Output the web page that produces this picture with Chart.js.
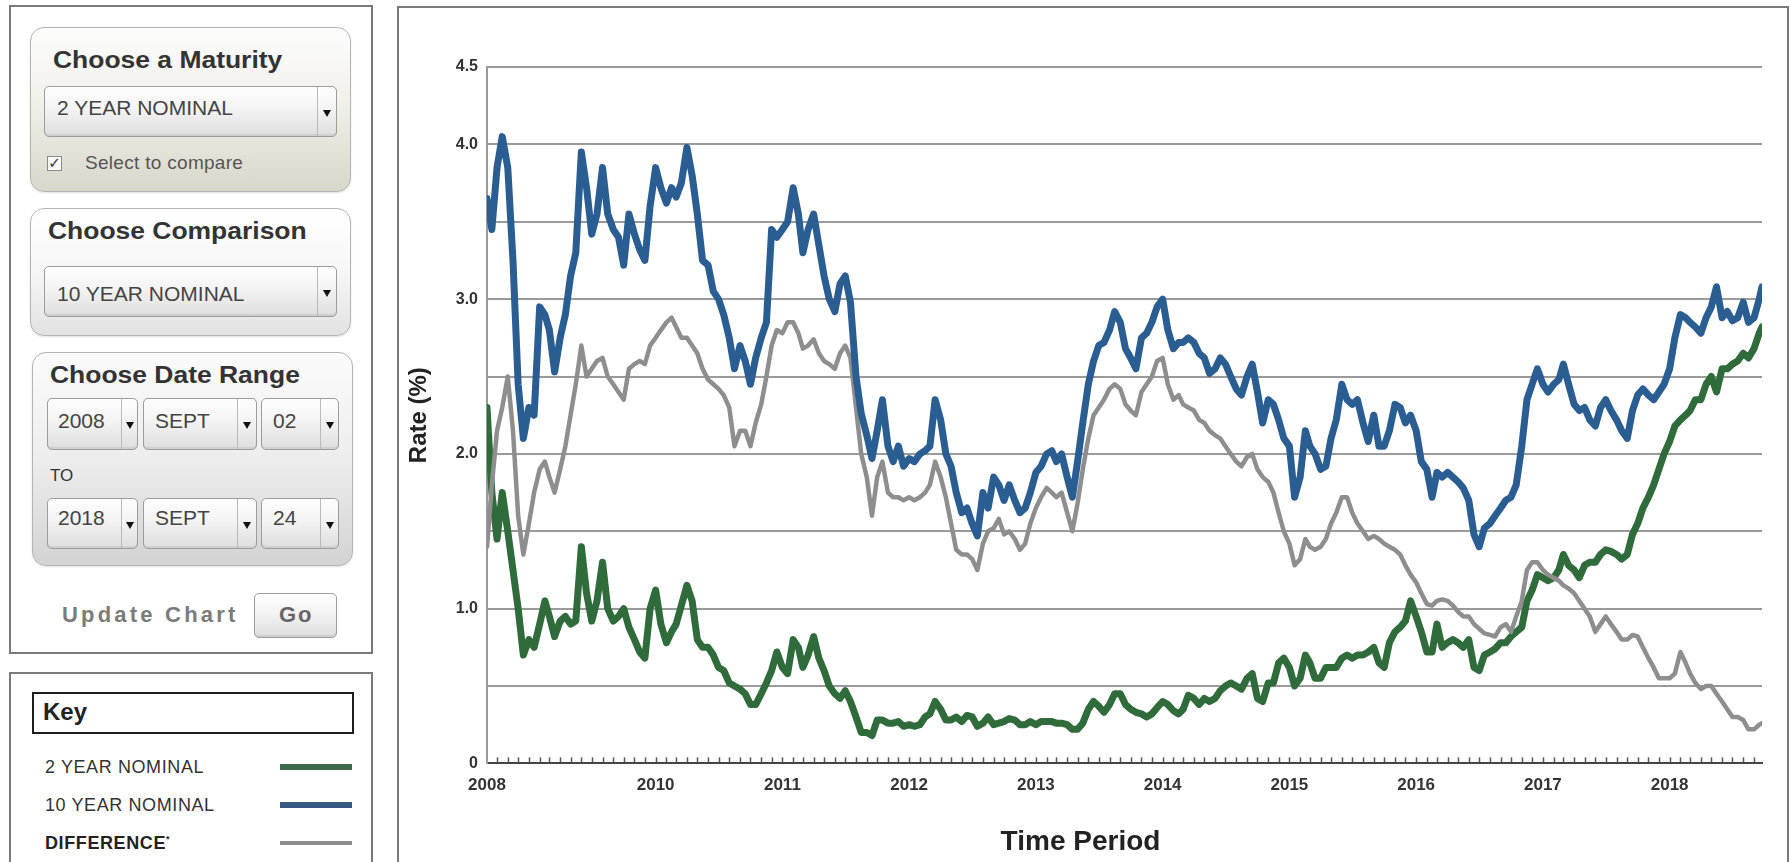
<!DOCTYPE html>
<html>
<head>
<meta charset="utf-8">
<title>Yield comparison</title>
<script src="https://cdn.jsdelivr.net/npm/chart.js@4.4.1/dist/chart.umd.min.js"></script>
<style>
  html, body { margin: 0; padding: 0; background: #fff; }
  body { width: 1791px; height: 862px; overflow: hidden; position: relative;
         font-family: "Liberation Sans", Arial, sans-serif; color: #333; }
  .abs { position: absolute; box-sizing: border-box; }
  .frame { border: 2px solid #7a7a7a; background: #fff; }
  .group { border: 1px solid #b4b4b4; border-radius: 14px; box-shadow: 0 1px 2px rgba(0,0,0,0.12); }
  .title { font-weight: bold; font-size: 23px; line-height: 1; color: #333; white-space: nowrap;
           transform: scaleX(1.15); transform-origin: 0 0; }
  .sel { border: 1px solid #9c9c9c; border-radius: 5px;
         background: linear-gradient(#fefefe, #f3f3f3 45%, #dedede);
         box-shadow: inset 0 -2px 0 #cfcfcf; }
  .sel .btn { position: absolute; top: 0; right: 0; bottom: 0; border-left: 1px solid #b9b9b9; }
  .sel .btn::after { content: ''; position: absolute; left: 50%; top: 50%;
         transform: translate(-50%, -30%);
         border-left: 4px solid transparent; border-right: 4px solid transparent; border-top: 7px solid #111; }
  .txt { font-size: 21px; line-height: 1; color: #444; white-space: nowrap; }
  .key { font-size: 18px; line-height: 1; color: #333; letter-spacing: 0.6px; white-space: nowrap; }
  .swatch { height: 6px; }
</style>
</head>
<body>

<!-- controls -->
<div class="abs frame" style="left:9px;top:5px;width:364px;height:649px"></div>

<div class="abs group" style="left:30px;top:27px;width:321px;height:165px;background:linear-gradient(#fdfdfc 0%, #f1f0ea 45%, #d9d7cb 100%)"></div>
<div class="abs title" style="left:53px;top:49px">Choose a Maturity</div>
<div class="abs sel" style="left:44px;top:86px;width:293px;height:51px"><div class="btn" style="width:18px"></div></div>
<div class="abs txt" style="left:57px;top:97px">2 YEAR NOMINAL</div>
<div class="abs" style="left:47px;top:156px;width:15px;height:15px;border:1px solid #8a8a8a;background:#fafafa;font-size:15px;line-height:13px;text-align:center;color:#333;font-family:'DejaVu Sans'">✓</div>
<div class="abs" style="left:85px;top:153px;font-size:19px;line-height:1;color:#555;letter-spacing:0.3px;white-space:nowrap">Select to compare</div>

<div class="abs group" style="left:30px;top:208px;width:321px;height:128px;background:linear-gradient(#ffffff 0%, #f6f6f6 50%, #e2e2e2 100%)"></div>
<div class="abs title" style="left:48px;top:220px">Choose Comparison</div>
<div class="abs sel" style="left:44px;top:266px;width:293px;height:51px"><div class="btn" style="width:18px"></div></div>
<div class="abs txt" style="left:57px;top:283px">10 YEAR NOMINAL</div>

<div class="abs group" style="left:32px;top:352px;width:321px;height:214px;background:linear-gradient(#fbfbfb 0%, #ededed 50%, #d3d3d3 100%)"></div>
<div class="abs title" style="left:50px;top:364px">Choose Date Range</div>
<div class="abs sel" style="left:47px;top:398px;width:91px;height:52px"><div class="btn" style="width:15px"></div></div>
<div class="abs sel" style="left:143px;top:398px;width:114px;height:52px"><div class="btn" style="width:18px"></div></div>
<div class="abs sel" style="left:261px;top:398px;width:78px;height:52px"><div class="btn" style="width:17px"></div></div>
<div class="abs txt" style="left:58px;top:410px">2008</div>
<div class="abs txt" style="left:155px;top:410px">SEPT</div>
<div class="abs txt" style="left:273px;top:410px">02</div>
<div class="abs" style="left:50px;top:467px;font-size:17px;line-height:1;color:#333">TO</div>
<div class="abs sel" style="left:47px;top:498px;width:91px;height:51px"><div class="btn" style="width:15px"></div></div>
<div class="abs sel" style="left:143px;top:498px;width:114px;height:51px"><div class="btn" style="width:18px"></div></div>
<div class="abs sel" style="left:261px;top:498px;width:78px;height:51px"><div class="btn" style="width:17px"></div></div>
<div class="abs txt" style="left:58px;top:507px">2018</div>
<div class="abs txt" style="left:155px;top:507px">SEPT</div>
<div class="abs txt" style="left:273px;top:507px">24</div>

<div class="abs" style="left:62px;top:604px;font-size:22px;font-weight:bold;line-height:1;letter-spacing:3.2px;color:#7b7b7b;white-space:nowrap">Update Chart</div>
<div class="abs sel" style="left:254px;top:593px;width:83px;height:45px"></div>
<div class="abs" style="left:279px;top:604px;font-size:22px;font-weight:bold;line-height:1;letter-spacing:2px;color:#666">Go</div>

<!-- key -->
<div class="abs frame" style="left:9px;top:672px;width:364px;height:220px"></div>
<div class="abs" style="left:32px;top:692px;width:322px;height:42px;border:2px solid #1e1e1e;background:#fff"></div>
<div class="abs" style="left:43px;top:700px;font-size:24px;font-weight:bold;line-height:1;color:#222">Key</div>
<div class="abs key" style="left:45px;top:758px">2 YEAR NOMINAL</div>
<div class="abs key" style="left:45px;top:796px">10 YEAR NOMINAL</div>
<div class="abs key" style="left:45px;top:834px;font-weight:bold;color:#222">DIFFERENCE<sup style="font-size:9px">*</sup></div>
<div class="abs swatch" style="left:280px;top:764px;width:72px;background:#3e6b4d"></div>
<div class="abs swatch" style="left:280px;top:802px;width:72px;background:#35597e"></div>
<div class="abs swatch" style="left:280px;top:841px;width:72px;height:4px;background:#8c8c8c"></div>

<!-- chart -->
<div class="abs frame" style="left:397px;top:6px;width:1392px;height:880px">
  <canvas id="yieldChart" width="1388" height="854"></canvas>
</div>

<script>
// 10 year nominal rate, two readings a month (1st and 16th), Sep 2008 - Sep 2018
const tenYear = [
  3.65, 3.45,  3.85, 4.05,  3.85, 3.25,  2.45, 2.10,
  2.30, 2.25,  2.95, 2.90,  2.80, 2.53,  2.75, 2.90,  3.15, 3.30,  3.95, 3.72,  3.42, 3.55,  3.85, 3.55,  3.45, 3.40,  3.22, 3.55,  3.42, 3.32,  3.25, 3.60,
  3.85, 3.72,  3.62, 3.72,  3.66, 3.75,  3.98, 3.80,  3.55, 3.25,  3.22, 3.05,  3.00, 2.90,  2.75, 2.55,  2.70, 2.60,  2.45, 2.62,  2.75, 2.85,  3.45, 3.40,
  3.45, 3.50,  3.72, 3.55,  3.30, 3.45,  3.55, 3.35,  3.15, 3.00,  2.92, 3.10,  3.15, 2.98,  2.50, 2.26,  2.12, 1.97,  2.15, 2.35,  2.05, 1.95,  2.05, 1.92,
  1.97, 1.95,  2.00, 2.02,  2.05, 2.35,  2.22, 2.00,  1.92, 1.75,  1.62, 1.65,  1.55, 1.47,  1.75, 1.65,  1.85, 1.80,  1.70, 1.80,  1.70, 1.62,  1.65, 1.75,
  1.88, 1.92,  2.00, 2.02,  1.95, 2.00,  1.85, 1.72,  1.95, 2.20,  2.45, 2.60,  2.70, 2.72,  2.80, 2.92,  2.85, 2.68,  2.62, 2.55,  2.75, 2.78,  2.85, 2.95,
  3.00, 2.80,  2.68, 2.72,  2.72, 2.75,  2.72, 2.65,  2.62, 2.52,  2.55, 2.62,  2.58, 2.50,  2.42, 2.38,  2.50, 2.58,  2.40, 2.20,  2.35, 2.32,  2.22, 2.10,
  2.05, 1.72,  1.85, 2.15,  2.05, 2.00,  1.90, 1.92,  2.10, 2.22,  2.45, 2.35,  2.32, 2.35,  2.20, 2.08,  2.25, 2.05,  2.05, 2.15,  2.32, 2.30,  2.20, 2.25,
  2.15, 1.95,  1.90, 1.72,  1.88, 1.85,  1.88, 1.85,  1.82, 1.78,  1.70, 1.48,  1.40, 1.52,  1.55, 1.60,  1.65, 1.70,  1.72, 1.80,  2.05, 2.35,  2.45, 2.55,
  2.45, 2.40,  2.45, 2.48,  2.58, 2.45,  2.32, 2.28,  2.30, 2.22,  2.18, 2.30,  2.35, 2.28,  2.22, 2.15,  2.10, 2.28,  2.38, 2.42,  2.38, 2.35,  2.40, 2.45,
  2.55, 2.75,  2.90, 2.88,  2.85, 2.82,  2.78, 2.88,  2.95, 3.08,  2.88, 2.92,  2.86, 2.88,  2.98, 2.85,  2.88, 3.00,  3.08
];

// 2 year nominal rate
const twoYear = [
  2.30, 1.75,  1.45, 1.75,  1.50, 1.25,  1.00, 0.70,
  0.80, 0.75,  0.90, 1.05,  0.95, 0.82,  0.92, 0.95,  0.90, 0.92,  1.40, 1.10,  0.92, 1.05,  1.30, 1.00,  0.92, 0.95,  1.00, 0.88,  0.80, 0.72,  0.68, 1.00,
  1.12, 0.90,  0.78, 0.85,  0.90, 1.02,  1.15, 1.05,  0.80, 0.75,  0.75, 0.70,  0.62, 0.60,  0.52, 0.50,  0.48, 0.45,  0.38, 0.38,  0.45, 0.52,  0.60, 0.72,
  0.62, 0.58,  0.80, 0.75,  0.62, 0.70,  0.82, 0.68,  0.60, 0.50,  0.45, 0.42,  0.47, 0.40,  0.30, 0.20,  0.20, 0.18,  0.28, 0.28,  0.26, 0.26,  0.27, 0.24,
  0.25, 0.24,  0.25, 0.30,  0.32, 0.40,  0.35, 0.28,  0.28, 0.30,  0.27, 0.31,  0.30, 0.24,  0.26, 0.30,  0.25, 0.26,  0.27, 0.29,  0.28, 0.25,  0.25, 0.27,
  0.25, 0.27,  0.27, 0.27,  0.26, 0.26,  0.25, 0.22,  0.22, 0.26,  0.35, 0.40,  0.37, 0.33,  0.38, 0.45,  0.45, 0.38,  0.35, 0.33,  0.32, 0.30,  0.32, 0.36,
  0.40, 0.38,  0.34, 0.32,  0.35, 0.44,  0.42, 0.38,  0.42, 0.40,  0.42, 0.47,  0.50, 0.52,  0.50, 0.48,  0.55, 0.58,  0.42, 0.40,  0.52, 0.52,  0.65, 0.68,
  0.62, 0.50,  0.55, 0.70,  0.65, 0.55,  0.55, 0.62,  0.62, 0.62,  0.68, 0.70,  0.68, 0.70,  0.70, 0.72,  0.75, 0.65,  0.62, 0.78,  0.85, 0.88,  0.92, 1.05,
  0.95, 0.85,  0.72, 0.72,  0.90, 0.75,  0.78, 0.80,  0.78, 0.75,  0.80, 0.62,  0.60, 0.70,  0.72, 0.74,  0.78, 0.78,  0.82, 0.85,  0.88, 1.05,  1.12, 1.22,
  1.20, 1.18,  1.20, 1.25,  1.35, 1.28,  1.25, 1.20,  1.28, 1.30,  1.30, 1.35,  1.38, 1.37,  1.35, 1.32,  1.35, 1.48,  1.55, 1.65,  1.72, 1.80,  1.90, 2.00,
  2.08, 2.18,  2.22, 2.25,  2.28, 2.35,  2.35, 2.45,  2.50, 2.40,  2.55, 2.55,  2.58, 2.60,  2.65, 2.62,  2.68, 2.78,  2.82
];

// difference (10 year minus 2 year) as plotted
const difference = [
  1.40, 1.80,  2.15, 2.30,  2.50, 2.15,  1.60, 1.35,
  1.55, 1.75,  1.90, 1.95,  1.85, 1.75,  1.90, 2.05,  2.25, 2.45,  2.70, 2.50,  2.55, 2.60,  2.62, 2.50,  2.45, 2.40,  2.35, 2.55,  2.58, 2.60,  2.58, 2.70,
  2.75, 2.80,  2.85, 2.88,  2.82, 2.75,  2.75, 2.70,  2.65, 2.55,  2.48, 2.45,  2.42, 2.38,  2.30, 2.05,  2.15, 2.15,  2.05, 2.20,  2.32, 2.50,  2.70, 2.80,
  2.78, 2.85,  2.85, 2.78,  2.68, 2.70,  2.74, 2.65,  2.60, 2.58,  2.55, 2.65,  2.70, 2.62,  2.30, 2.00,  1.85, 1.60,  1.85, 1.95,  1.75, 1.72,  1.72, 1.70,
  1.72, 1.70,  1.72, 1.75,  1.80, 1.95,  1.85, 1.72,  1.55, 1.38,  1.35, 1.35,  1.32, 1.25,  1.42, 1.50,  1.52, 1.58,  1.48, 1.50,  1.45, 1.38,  1.42, 1.55,
  1.65, 1.72,  1.78, 1.75,  1.72, 1.75,  1.62, 1.50,  1.68, 1.90,  2.10, 2.25,  2.30, 2.35,  2.42, 2.45,  2.42, 2.32,  2.28, 2.25,  2.40, 2.45,  2.50, 2.60,
  2.62, 2.45,  2.35, 2.38,  2.32, 2.30,  2.28, 2.22,  2.20, 2.15,  2.12, 2.10,  2.05, 2.00,  1.95, 1.92,  1.98, 2.00,  1.90, 1.85,  1.82, 1.75,  1.62, 1.50,
  1.42, 1.28,  1.32, 1.45,  1.40, 1.38,  1.40, 1.45,  1.55, 1.62,  1.72, 1.72,  1.62, 1.55,  1.50, 1.45,  1.47, 1.45,  1.42, 1.40,  1.38, 1.35,  1.28, 1.22,
  1.17, 1.10,  1.03, 1.02,  1.05, 1.06,  1.05, 1.02,  0.98, 0.95,  0.95, 0.90,  0.87, 0.84,  0.83, 0.82,  0.88, 0.90,  0.85, 0.95,  1.05, 1.25,  1.30, 1.30,
  1.25, 1.22,  1.20, 1.18,  1.15, 1.13,  1.10, 1.05,  1.00, 0.95,  0.85, 0.90,  0.95, 0.90,  0.85, 0.80,  0.80, 0.83,  0.82, 0.75,  0.68, 0.62,  0.55, 0.55,
  0.55, 0.58,  0.72, 0.65,  0.58, 0.52,  0.48, 0.50,  0.50, 0.45,  0.40, 0.35,  0.30, 0.30,  0.28, 0.22,  0.22, 0.25,  0.26
];

const xTickDates = ['2008-09-02', '2010-01-01', '2011-01-01', '2012-01-01', '2013-01-01',
                    '2014-01-01', '2015-01-01', '2016-01-01', '2017-01-01', '2018-01-01'];
const xTickLabels = ['2008', '2010', '2011', '2012', '2013', '2014', '2015', '2016', '2017', '2018'];
const yTickLabels = ['0', '', '1.0', '', '2.0', '', '3.0', '', '4.0', '4.5'];

const startDate = '2008-09-02';
const endDate = '2018-09-24';

// sample dates: 1st and 16th of each month
const sampleDates = [];
const monthStarts = [];
for (let year = 2008; year <= 2018; year++) {
    for (let month = 1; month <= 12; month++) {
        if ((year === 2008 && month < 9) || (year === 2018 && month > 9)) continue;
        const mm = String(month).padStart(2, '0');
        sampleDates.push(year + '-' + mm + '-' + (year === 2008 && month === 9 ? '02' : '01'));
        sampleDates.push(year + '-' + mm + '-16');
        if (!(year === 2008 && month === 9)) monthStarts.push(year + '-' + mm + '-01');
    }
}
sampleDates.push(endDate);

const FONT = '"Liberation Sans", Arial, sans-serif';

function toYear(dateStr) {
    const [y, m, d] = dateStr.split('-').map(Number);
    const start = Date.UTC(y, 0, 1);
    const end = Date.UTC(y + 1, 0, 1);
    return y + (Date.UTC(y, m - 1, d) - start) / (end - start);
}

function toPoints(values) {
    return values.map((v, i) => ({ x: toYear(sampleDates[i]), y: v }));
}

// small monthly marks sitting on top of the time axis
const monthTicks = {
    id: 'monthTicks',
    afterDraw(chart) {
        const ctx = chart.ctx;
        const xScale = chart.scales.x;
        const base = xScale.top;
        ctx.save();
        ctx.strokeStyle = '#555';
        ctx.lineWidth = 1.5;
        monthStarts.forEach(d => {
            const px = Math.round(xScale.getPixelForValue(toYear(d))) + 0.5;
            ctx.beginPath();
            ctx.moveTo(px, base - 1);
            ctx.lineTo(px, base - 6);
            ctx.stroke();
        });
        ctx.restore();
    }
};

const ctx = document.getElementById('yieldChart').getContext('2d');
const yieldChart = new Chart(ctx, {
    type: 'line',
    data: {
        datasets: [
            {
                label: '10 YEAR NOMINAL',
                data: toPoints(tenYear),
                borderColor: '#2a5d92',
                borderWidth: 7,
                order: 1
            },
            {
                label: 'DIFFERENCE*',
                data: toPoints(difference),
                borderColor: '#8e8e8e',
                borderWidth: 4.5,
                order: 2
            },
            {
                label: '2 YEAR NOMINAL',
                data: toPoints(twoYear),
                borderColor: '#2f6b3b',
                borderWidth: 7,
                order: 3
            }
        ]
    },
    options: {
        responsive: false,
        animation: false,
        devicePixelRatio: 1,
        elements: {
            point: { radius: 0 },
            line: { tension: 0, borderJoinStyle: 'round', borderCapStyle: 'round' }
        },
        layout: {
            padding: { top: 59, right: 25, left: 0, bottom: 0 }
        },
        plugins: {
            legend: { display: false },
            tooltip: { enabled: false },
            title: {
                display: true,
                position: 'bottom',
                text: 'Time Period',
                color: '#222',
                font: { family: FONT, size: 28, weight: 'bold' },
                padding: { top: 10, bottom: 3 }
            }
        },
        scales: {
            x: {
                type: 'linear',
                min: toYear(startDate),
                max: toYear(endDate),
                grid: { display: false, drawTicks: false },
                border: { display: true, color: '#444', width: 2 },
                afterBuildTicks: function(scale) {
                    scale.ticks = xTickDates.map(d => ({ value: toYear(d) }));
                },
                afterFit: function(scale) {
                    scale.height = 52;
                },
                ticks: {
                    autoSkip: false,
                    maxRotation: 0,
                    padding: 12,
                    color: '#333',
                    font: { family: FONT, size: 17, weight: 'bold' },
                    callback: function(value, index) {
                        return xTickLabels[index];
                    }
                }
            },
            y: {
                min: 0,
                max: 4.5,
                afterFit: function(scale) {
                    scale.width = 88;
                },
                grid: { color: '#9a9a9a', lineWidth: 2, drawTicks: false },
                border: { display: true, color: '#9a9a9a', width: 2 },
                ticks: {
                    stepSize: 0.5,
                    padding: 9,
                    color: '#333',
                    font: { family: FONT, size: 16, weight: 'bold' },
                    callback: function(value, index) {
                        return yTickLabels[index];
                    }
                },
                title: {
                    display: true,
                    text: 'Rate (%)',
                    color: '#222',
                    font: { family: FONT, size: 24, weight: 'bold' },
                    padding: { top: 6, bottom: 0 }
                }
            }
        }
    },
    plugins: [monthTicks]
});
</script>
</body>
</html>
